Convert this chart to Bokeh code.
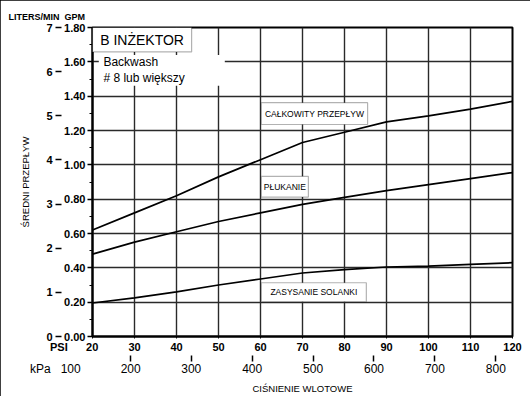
from bokeh.plotting import figure
from bokeh.models import (Range1d, LinearAxis, SingleIntervalTicker, FixedTicker,
                          NumeralTickFormatter, BoxAnnotation, Label)
from bokeh.embed import file_html
from bokeh.resources import INLINE

# ---- data ----
psi = [20, 30, 40, 50, 60, 70, 80, 90, 100, 110, 120]
total_flow = [0.62, 0.72, 0.82, 0.93, 1.03, 1.13, 1.19, 1.25, 1.285, 1.325, 1.37]
rinse_flow = [0.48, 0.55, 0.61, 0.67, 0.72, 0.77, 0.81, 0.85, 0.885, 0.92, 0.955]
brine_flow = [0.195, 0.225, 0.26, 0.30, 0.335, 0.37, 0.39, 0.405, 0.41, 0.42, 0.43]
psi_ticks = [20, 30, 40, 50, 60, 70, 80, 90, 100, 110, 120]
kpa_ticks = [200, 300, 400, 500, 600, 700, 800]
lpm_ticks = [0, 1, 2, 3, 4, 5, 6, 7]
KPA_PER_PSI = 6.895

FONT = "Liberation Sans"
NB = "\u00a0"
W, H = 530, 396
ML, MR, MT, MB = 92, 18, 27, 58

p = figure(width=W, height=H, output_backend="svg", toolbar_location=None,
           x_range=Range1d(20, 120), y_range=Range1d(0, 1.80),
           min_border_left=ML, min_border_right=MR, min_border_top=MT,
           min_border_bottom=MB, title="LITERS/MIN" + NB * 2 + "GPM")
p.styles = {"outline": "2px solid black", "outline-offset": "-2px"}
p.outline_line_color = "black"
p.outline_line_width = 2
p.background_fill_color = "white"
p.border_fill_color = "white"

p.title.text_font = FONT
p.title.text_font_size = "9px"
p.title.text_font_style = "bold"
p.title.text_color = "black"
p.title.align = "left"
p.title.offset = -84
p.title.standoff = 12

p.extra_x_ranges = {"kpa": Range1d(20 * KPA_PER_PSI, 120 * KPA_PER_PSI)}
p.extra_y_ranges = {"lpm": Range1d(0, 7)}

# ---- grid ----
p.xgrid.ticker = FixedTicker(ticks=psi_ticks)
p.ygrid.ticker = SingleIntervalTicker(interval=0.2)
for g in (p.xgrid, p.ygrid):
    g.grid_line_color = "#2a2a2a"
    g.grid_line_width = 1.4

# ---- PSI axis ----
xa = p.xaxis[0]
xa.ticker = FixedTicker(ticks=psi_ticks)
xa.major_label_overrides = {20: "PSI" + NB * 6 + "20" + NB * 12}
xa.axis_line_color = "black"
xa.axis_line_width = 2
xa.major_tick_in = 0
xa.major_tick_out = 2
xa.minor_tick_line_color = None
xa.major_label_standoff = 2
xa.major_label_text_font = FONT
xa.major_label_text_font_size = "11px"
xa.major_label_text_font_style = "bold"
xa.major_label_text_color = "black"

# ---- kPa axis ----
ka = LinearAxis(x_range_name="kpa", ticker=FixedTicker(ticks=kpa_ticks))
ka.major_label_overrides = {200: "kPa" + NB * 3 + "100" + NB * 12 + "200" + NB * 27}
ka.axis_line_color = "black"
ka.axis_line_alpha = 0
ka.major_tick_in = 0
ka.major_tick_out = 6
ka.major_tick_line_width = 1.5
ka.major_tick_line_color = "black"
ka.minor_tick_line_color = None
ka.major_label_standoff = 0
ka.major_label_text_font = FONT
ka.major_label_text_font_size = "12px"
ka.major_label_text_color = "black"
ka.axis_label = "CIŚNIENIE WLOTOWE"
ka.axis_label_standoff = 4
ka.axis_label_text_font = FONT
ka.axis_label_text_font_size = "9.5px"
ka.axis_label_text_font_style = "normal"
ka.axis_label_text_color = "black"
p.add_layout(ka, "below")

# ---- GPM axis ----
ya = p.yaxis[0]
ya.ticker = SingleIntervalTicker(interval=0.2, num_minor_ticks=2)
ya.formatter = NumeralTickFormatter(format="0.00")
ya.axis_line_color = "black"
ya.axis_line_width = 2
ya.major_tick_in = 0
ya.major_tick_out = 5
ya.minor_tick_in = 0
ya.minor_tick_out = 3
ya.major_tick_line_width = 1.3
ya.major_label_standoff = 2
ya.major_label_text_font = FONT
ya.major_label_text_font_size = "11px"
ya.major_label_text_font_style = "bold"
ya.major_label_text_color = "black"

# ---- L/min axis ----
la = LinearAxis(y_range_name="lpm", ticker=FixedTicker(ticks=lpm_ticks))
la.axis_line_color = None
la.major_tick_in = 0
la.major_tick_out = 6
la.major_tick_line_width = 1.5
la.minor_tick_line_color = None
la.major_label_standoff = 3
la.major_label_text_font = FONT
la.major_label_text_font_size = "11px"
la.major_label_text_font_style = "bold"
la.major_label_text_color = "black"
la.axis_label = "ŚREDNI PRZEPŁYW"
la.axis_label_standoff = 12
la.axis_label_text_font = FONT
la.axis_label_text_font_size = "9.5px"
la.axis_label_text_font_style = "normal"
la.axis_label_text_color = "black"
p.add_layout(la, "left")

# ---- curves ----
for ys in (total_flow, rinse_flow, brine_flow):
    p.line(psi, ys, line_color="black", line_width=1.7)

# ---- annotation boxes ----
def box(l, r, b, t, line=True):
    p.add_layout(BoxAnnotation(left=l, right=r, bottom=b, top=t,
                               fill_color="white", fill_alpha=1.0,
                               line_color="black" if line else None,
                               line_width=1.2, level="overlay"))

def lab(x, y, text, size, style="normal", align="center"):
    p.add_layout(Label(x=x, y=y, text=text, text_font=FONT,
                       text_font_size=size, text_font_style=style,
                       text_color="black", text_align=align,
                       text_baseline="middle", level="overlay"))

# backwash area (white) and title box
box(21.5, 51.5, 1.46, 1.64, line=False)
box(20, 43.6, 1.658, 1.80)
lab(31.8, 1.729, "B INŻEKTOR", "14px")
lab(22.6, 1.598, "Backwash", "12px", align="left")
lab(22.6, 1.505, "# 8 lub większy", "12px", align="left")

box(60.2, 85.5, 1.235, 1.362)
lab(72.85, 1.298, "CAŁKOWITY PRZEPŁYW", "8.5px")
box(60.2, 71.4, 0.812, 0.933)
lab(65.8, 0.872, "PŁUKANIE", "8.5px")
box(60.2, 85.2, 0.203, 0.313)
lab(72.7, 0.258, "ZASYSANIE SOLANKI", "8.5px")

open("out.html", "w").write(file_html(p, INLINE))
